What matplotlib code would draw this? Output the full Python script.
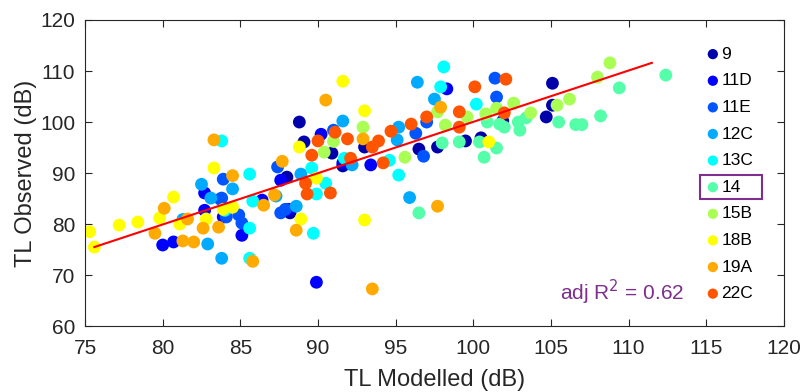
"""TL modelled vs observed scatter"""
import numpy as np
import matplotlib.pyplot as plt
from matplotlib.patches import Rectangle

plt.rcParams['font.family'] = ['Liberation Sans', 'DejaVu Sans']

# ==========================================================
# data
# ==========================================================
labels = ['9', '11D', '11E', '12C', '13C', '14', '15B', '18B', '19A', '22C']

x_9 = [88.8, 89.1, 90.9, 88.2, 88.0, 93.0, 96.5, 97.7, 91.6, 99.5, 100.5, 105.1, 104.7, 105.1, 101.9]
y_9 = [100.0, 96.1, 93.9, 82.2, 89.2, 95.1, 94.7, 95.1, 91.4, 96.3, 96.9, 107.6, 101.0, 103.3, 100.2]

x_11d = [80.0, 80.7, 82.7, 82.7, 83.9, 85.1, 88.1, 87.6, 90.2, 86.4, 93.4, 91.6, 98.3, 89.9]
y_11d = [75.9, 76.5, 82.7, 86.1, 81.4, 77.8, 82.9, 88.6, 97.6, 84.7, 91.6, 92.0, 106.5, 68.6]

x_11e = [83.9, 83.7, 84.1, 87.4, 87.6, 84.9, 85.1, 87.9, 96.8, 96.3, 97.0, 91.0, 101.4, 101.5, 83.8]
y_11e = [88.8, 84.9, 81.4, 91.2, 82.2, 81.8, 80.2, 82.9, 93.3, 97.8, 100.0, 98.4, 108.6, 104.9, 85.1]

x_12c = [82.5, 83.1, 82.9, 83.8, 84.5, 88.6, 87.3, 88.9, 91.6, 96.4, 97.5, 95.1, 95.2, 95.9, 92.2, 81.3]
y_12c = [87.8, 85.1, 76.1, 73.3, 86.9, 83.5, 85.5, 89.8, 100.2, 107.8, 104.5, 96.5, 99.0, 85.2, 91.6, 80.9]

x_13c = [83.8, 84.0, 85.6, 85.8, 85.6, 85.6, 89.6, 89.9, 90.5, 89.7, 91.7, 94.6, 95.2, 97.9, 98.1, 100.2]
y_13c = [96.3, 82.7, 89.8, 84.5, 79.2, 73.3, 91.0, 85.9, 88.0, 78.2, 92.9, 92.5, 89.6, 106.9, 110.8, 103.5]

x_14 = [99.1, 100.4, 100.7, 101.5, 101.7, 102.0, 102.9, 103.0, 103.4, 105.5, 98.0, 106.6,
        107.0, 108.2, 109.4, 112.4, 96.5, 100.9]
y_14 = [96.1, 96.1, 93.1, 94.9, 99.6, 99.0, 100.0, 98.4, 100.8, 100.0, 95.9, 99.5,
        99.5, 101.2, 106.7, 109.2, 82.2, 100.0]

x_15b = [91.0, 90.4, 92.9, 95.6, 98.2, 97.7, 99.6, 100.8, 102.6, 103.7, 105.4, 101.5, 108.8, 108.0, 106.2]
y_15b = [96.2, 94.1, 99.0, 93.1, 99.4, 102.0, 101.0, 101.6, 103.7, 101.8, 103.3, 102.7, 111.6, 108.8, 104.5]

x_18b = [75.3, 75.6, 77.2, 78.4, 79.8, 80.7, 81.1, 82.8, 83.3, 83.9, 88.8, 89.9, 88.9, 84.5,
         91.6, 93.0, 93.0, 101.0]
y_18b = [78.5, 75.5, 79.8, 80.4, 81.2, 85.3, 80.0, 81.0, 91.0, 82.9, 95.1, 89.0, 81.0, 83.3,
         108.0, 102.2, 80.8, 96.1]

x_19a = [83.3, 80.1, 79.5, 81.3, 82.0, 81.6, 82.6, 83.6, 84.5, 90.5, 87.7, 87.2, 86.5, 88.6,
         85.8, 92.9, 97.9, 97.7, 93.5]
y_19a = [96.5, 83.1, 78.2, 76.7, 76.5, 81.0, 79.2, 79.4, 89.5, 104.3, 92.3, 85.7, 83.7, 78.8,
         72.7, 96.7, 102.9, 83.5, 67.3]

x_22c = [90.0, 89.6, 91.1, 89.2, 89.3, 90.8, 91.9, 92.1, 94.2, 93.5, 93.9, 94.7, 96.0, 97.0,
         100.1, 102.1, 99.1, 99.1, 102.0]
y_22c = [96.3, 93.5, 98.0, 88.0, 85.9, 86.1, 96.7, 92.9, 92.0, 95.1, 96.3, 98.2, 99.6, 101.0,
         106.9, 108.4, 102.0, 99.0, 101.8]

xs = [x_9, x_11d, x_11e, x_12c, x_13c, x_14, x_15b, x_18b, x_19a, x_22c]
ys = [y_9, y_11d, y_11e, y_12c, y_13c, y_14, y_15b, y_18b, y_19a, y_22c]

# regression line end points
fit_x = [75.6, 111.5]
fit_y = [75.5, 111.6]
adj_r2 = 0.62
highlight = '14'

# ==========================================================
# plot
# ==========================================================
purple = '#7E2F8E'
axcol = '#262626'
# matlab jet(10)
colors = [(0, 0, 0.6667), (0, 0, 1), (0, 0.3333, 1), (0, 0.6667, 1), (0, 1, 1),
          (0.3333, 1, 0.6667), (0.6667, 1, 0.3333), (1, 1, 0), (1, 0.6667, 0), (1, 0.3333, 0)]

fig = plt.figure(figsize=(8.06, 3.92), dpi=100)
ax = fig.add_axes([0.1055, 0.168, 0.867, 0.781])

for i, lab in enumerate(labels):
    ax.scatter(xs[i], ys[i], s=85, color=colors[i], edgecolors='none', label=lab, zorder=2)

ax.plot(fit_x, fit_y, color='red', lw=1.5, zorder=3)

ax.text(0.68, 0.085, 'adj R$^2$ = %.2f' % adj_r2, transform=ax.transAxes,
        color=purple, fontsize=15)

ax.set_xlim(75, 120)
ax.set_ylim(60, 120)
ax.set_xticks(np.arange(75, 121, 5))
ax.set_yticks(np.arange(60, 121, 10))
ax.tick_params(direction='in', top=True, right=True, labelsize=15, colors=axcol,
               length=5, width=0.8)
ax.tick_params(axis='x', pad=9)
ax.tick_params(axis='y', pad=7)
for sp in ax.spines.values():
    sp.set_color(axcol)
    sp.set_linewidth(0.8)
ax.set_xlabel('TL Modelled (dB)', fontsize=17, color=axcol, labelpad=8)
ax.set_ylabel('TL Observed (dB)', fontsize=17, color=axcol, labelpad=2)

leg = ax.legend(loc='upper left', bbox_to_anchor=(0.881, 0.936), frameon=False,
                fontsize=12.5, handlelength=0.6, handletextpad=0.2, labelspacing=0.66,
                markerscale=0.8, borderaxespad=0)

# box round the highlighted legend entry
fig.canvas.draw()
renderer = fig.canvas.get_renderer()
k = labels.index(highlight)
bb_t = leg.get_texts()[k].get_window_extent(renderer)
yc = 0.5 * (bb_t.y0 + bb_t.y1)
x0 = bb_t.x0 - 22
x1 = bb_t.x0 + 40
y0 = yc - 12
y1 = yc + 12
inv = fig.transFigure.inverted()
(fx0, fy0), (fx1, fy1) = inv.transform([(x0, y0), (x1, y1)])
fig.add_artist(Rectangle((fx0, fy0), fx1 - fx0, fy1 - fy0, transform=fig.transFigure,
                         fill=False, edgecolor=purple, lw=1.5))

fig.savefig('out.png', dpi=100)
